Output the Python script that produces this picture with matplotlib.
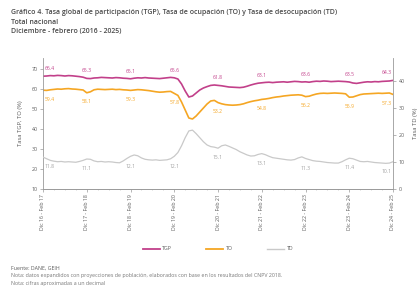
import matplotlib
matplotlib.use("Agg")
import matplotlib.pyplot as plt
from matplotlib.lines import Line2D
from matplotlib.ticker import MultipleLocator

tick_labels = ["Dic 16 - Feb 17", "Dic 17 - Feb 18", "Dic 18 - Feb 19", "Dic 19 - Feb 20",
               "Dic 20 - Feb 21", "Dic 21 - Feb 22", "Dic 22 - Feb 23", "Dic 23 - Feb 24",
               "Dic 24 - Feb 25"]

tgp = [66.4, 66.5, 66.7, 66.6, 66.8, 66.7, 66.5, 66.7, 66.6, 66.4, 66.2, 65.9,
       65.3, 65.2, 65.5, 65.6, 65.8, 65.7, 65.6, 65.5, 65.7, 65.6, 65.4, 65.3,
       65.1, 65.4, 65.6, 65.5, 65.7, 65.5, 65.4, 65.3, 65.2, 65.4, 65.6, 65.8,
       65.6, 65.0, 62.5, 59.0, 56.0, 56.5, 58.0, 59.5, 60.5, 61.2, 61.8, 62.0,
       61.8, 61.6, 61.3, 61.0, 60.9, 60.8, 60.7, 60.9, 61.4, 62.0, 62.5, 62.9,
       63.1, 63.3, 63.4, 63.2, 63.4, 63.5, 63.6, 63.4, 63.6, 63.8, 63.7, 63.5,
       63.6, 63.4, 63.7, 63.9, 63.8, 64.0, 63.9, 63.7, 63.8, 63.9, 63.8, 63.7,
       63.5, 63.0, 62.8, 63.1, 63.4, 63.6, 63.5, 63.7, 63.6, 63.8, 63.9, 64.0,
       64.3]

to = [59.4, 59.3, 59.6, 59.8, 60.0, 59.9, 60.1, 60.2, 60.0, 59.9, 59.7, 59.5,
      58.1, 58.6, 59.6, 59.9, 59.8, 59.7, 59.8, 59.9, 59.7, 59.8, 59.6, 59.5,
      59.3, 59.5, 59.7, 59.6, 59.4, 59.2, 58.9, 58.6, 58.4, 58.5, 58.7, 58.8,
      57.8, 56.8, 53.5, 49.5, 45.5, 45.0, 46.5, 48.5, 50.5, 52.5, 54.0, 54.3,
      53.2, 52.6, 52.2, 52.0, 51.9, 52.0, 52.2, 52.6, 53.2, 53.7, 54.1, 54.4,
      54.8, 55.0, 55.3, 55.7, 56.0, 56.2, 56.5, 56.7, 56.9, 57.0, 57.1, 56.9,
      56.2, 56.4, 57.0, 57.5, 57.8, 57.9, 57.8, 57.9, 58.0, 57.9, 57.8, 57.6,
      55.9, 56.0, 56.6, 57.2, 57.5, 57.6, 57.7, 57.8, 57.9, 57.8, 57.9, 58.0,
      57.3]

td = [11.8, 11.2, 10.6, 10.3, 10.1, 10.2, 10.0, 10.1, 10.0, 9.9, 10.2, 10.6,
      11.1, 11.0, 10.4, 10.1, 10.2, 10.0, 10.1, 10.0, 9.8, 9.7, 10.4, 11.3,
      12.1, 12.6, 12.3, 11.5, 11.0, 10.8, 10.7, 10.8, 10.6, 10.7, 10.8, 11.2,
      12.1, 13.5, 16.0, 19.0, 21.5, 21.8, 20.5, 19.0, 17.5, 16.3, 15.7, 15.5,
      15.1, 16.0, 16.3, 15.8, 15.2, 14.6, 13.8, 13.2, 12.6, 12.2, 12.3, 12.8,
      13.1, 12.7, 12.1, 11.6, 11.4, 11.2, 11.0, 10.8, 10.7, 10.9, 11.5, 11.9,
      11.3, 10.9, 10.5, 10.3, 10.2, 10.0, 9.8, 9.7, 9.6, 9.6, 10.1, 10.8,
      11.4, 11.2, 10.7, 10.2, 10.1, 10.2, 10.0, 9.8, 9.7, 9.6, 9.5, 9.6,
      10.1]

C_TGP = "#c2408a"
C_TO = "#f5a623"
C_TD = "#c9c9c9"
TXT = "#5a5a5a"

plt.rcParams['font.family'] = ['Open Sans', 'DejaVu Sans']

fig = plt.figure(figsize=(4.2, 3.01), dpi=100)
fig.patch.set_facecolor("white")
ax = fig.add_axes([43/420, 1-189/301, 350/420, 131/301])
ax2 = ax.twinx()

x = list(range(len(tgp)))
ax.plot(x, tgp, color=C_TGP, lw=1.2)
ax.plot(x, to, color=C_TO, lw=1.2)
ax2.plot(x, td, color=C_TD, lw=0.9)

ax.set_xlim(0, len(tgp) - 1)
ax.set_ylim(10, 75.5)
ax2.set_ylim(0, 48.5)
ax.yaxis.set_major_locator(MultipleLocator(10))
ax2.yaxis.set_major_locator(MultipleLocator(10))
ticks = list(range(0, len(tgp), 12))
ax.set_xticks(ticks)
ax.set_xticklabels(tick_labels, rotation=90, fontsize=3.8, color=TXT)
ax.xaxis.set_minor_locator(MultipleLocator(3))

for a in (ax, ax2):
    a.spines['top'].set_visible(False)
    for s in ('left', 'right', 'bottom'):
        a.spines[s].set_color("#9a9a9a")
        a.spines[s].set_linewidth(0.6)
    a.tick_params(axis='both', which='major', length=2, width=0.5, colors="#9a9a9a",
                  labelsize=3.8, labelcolor=TXT, pad=2)
    a.tick_params(axis='both', which='minor', length=1, width=0.4, colors="#b0b0b0")
ax.spines['right'].set_visible(False)
ax2.spines['left'].set_visible(False)

ax.set_ylabel("Tasa TGP, TO (%)", fontsize=4.2, color=TXT, labelpad=6)
ax2.set_ylabel("Tasa TD (%)", fontsize=4.2, color=TXT, labelpad=6)

n = len(ticks)
for k, i in enumerate(ticks):
    ha = 'left' if k == 0 else ('right' if k == n - 1 else 'center')
    dx = 1 if k == 0 else (-1 if k == n - 1 else 0)
    ax.annotate(f"{tgp[i]:.1f}", (i, tgp[i]), xytext=(dx, 5.5), textcoords='offset points',
                ha=ha, va='center', fontsize=3.6, color=C_TGP)
    ax.annotate(f"{to[i]:.1f}", (i, to[i]), xytext=(dx, -6.5), textcoords='offset points',
                ha=ha, va='center', fontsize=3.6, color=C_TO)
    ax2.annotate(f"{td[i]:.1f}", (i, td[i]), xytext=(dx, -7), textcoords='offset points',
                 ha=ha, va='center', fontsize=3.6, color="#a0a0a0")

handles = [Line2D([], [], color=C_TGP, lw=1.3), Line2D([], [], color=C_TO, lw=1.3),
           Line2D([], [], color=C_TD, lw=1.0)]
fig.legend(handles, ["TGP", "TO", "TD"], loc='center', bbox_to_anchor=(218/420, 1-249/301),
           ncol=3, frameon=False, fontsize=3.8, labelcolor=TXT, handlelength=3.2,
           columnspacing=6.5, handletextpad=0.5)

fig.text(11/420, 1-13/301,
         "Gráfico 4. Tasa global de participación (TGP), Tasa de ocupación (TO) y Tasa de desocupación (TD)",
         fontsize=5.0, color="#4a4a4a", fontweight='semibold', va='center', ha='left')
fig.text(11/420, 1-23/301, "Total nacional", fontsize=5.0, color="#4a4a4a",
         fontweight='semibold', va='center', ha='left')
fig.text(11/420, 1-31/301, "Diciembre - febrero (2016 - 2025)", fontsize=5.0, color="#4a4a4a",
         fontweight='semibold', va='center', ha='left')

fig.text(11/420, 1-268/301, "Fuente: DANE, GEIH", fontsize=3.8, color=TXT, va='center', ha='left')
fig.text(11/420, 1-276/301,
         "Nota: datos expandidos con proyecciones de población, elaborados con base en los resultados del CNPV 2018.",
         fontsize=3.8, color="#777777", va='center', ha='left')
fig.text(11/420, 1-283/301, "Nota: cifras aproximadas a un decimal", fontsize=3.8,
         color="#777777", va='center', ha='left')

fig.savefig("out.png", dpi=100, facecolor="white")
